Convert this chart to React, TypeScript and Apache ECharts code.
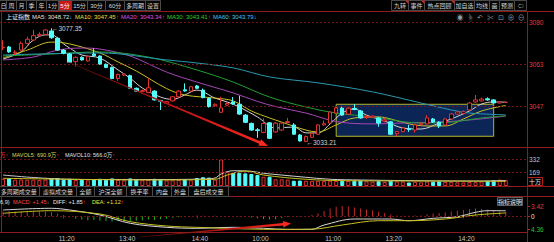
import React, { useEffect, useRef } from "react";
import * as echarts from "echarts";

// ---------------- data ----------------
const categories = [
  "10:30","10:35","10:40","10:45","10:50","10:55","11:00","11:05","11:10","11:15","11:20","11:25","11:30",
  "13:05","13:10","13:15","13:20","13:25","13:30","13:35","13:40","13:45","13:50","13:55","14:00","14:05","14:10","14:15","14:20","14:25","14:30","14:35","14:40","14:45","14:50","14:55","15:00",
  "09:35","09:40","09:45","09:50","09:55","10:00","10:05","10:10","10:15","10:20","10:25","10:30","10:35","10:40","10:45","10:50","10:55","11:00","11:05","11:10","11:15","11:20","11:25","11:30",
  "13:05","13:10","13:15","13:20","13:25","13:30","13:35","13:40","13:45","13:50","13:55","14:00","14:05","14:10","14:15","14:20","14:25","14:30","14:35","14:40","14:45","14:50","14:55","15:00",
  "", ""
];
const timeLabelIndex = [10, 20, 32, 42, 54, 64, 76];

const opens = [
  3069.8,3070.1,3067.8,3068.9,3071.5,3072.8,3074.5,3075.0,3076.3,3073.5,
  3068.9,3067.4,3064.4,3066.1,3064.7,3067.4,3066.6,3063.4,3062.2,3057.9,
  3059.2,3059.0,3054.1,3052.9,3052.5,3053.0,3049.4,3048.3,3049.2,3050.8,
  3053.5,3053.0,3055.0,3053.4,3050.2,3047.3,3044.8,3047.6,3048.8,3047.9,
  3043.7,3040.5,3038.0,3037.0,3040.7,3037.2,3037.9,3040.8,3039.9,3036.0,
  3033.5,3035.1,3036.3,3039.9,3040.6,3044.5,3046.4,3044.1,3046.3,3045.3,
  3042.8,3042.9,3042.6,3041.4,3041.1,3036.5,3037.3,3038.5,3037.9,3040.0,
  3040.3,3042.2,3041.0,3039.9,3042.2,3044.1,3044.3,3045.7,3048.8,3049.2,
  3050.0,3049.6,3048.4,3048.6
];
const closes = [
  3070.0,3068.2,3068.1,3071.5,3073.1,3074.5,3075.0,3076.7,3073.7,3068.9,
  3067.7,3064.2,3066.1,3065.1,3066.4,3066.7,3063.5,3062.2,3057.9,3059.5,
  3059.6,3054.1,3053.0,3053.2,3054.3,3049.6,3049.1,3048.9,3050.8,3053.0,
  3053.1,3054.7,3054.1,3050.5,3047.0,3047.9,3046.5,3048.2,3048.0,3044.1,
  3040.9,3037.9,3037.7,3040.5,3034.7,3040.6,3040.6,3041.2,3036.3,3033.7,
  3035.4,3036.6,3039.9,3040.4,3044.9,3046.5,3043.7,3046.4,3045.9,3042.6,
  3043.2,3043.3,3040.6,3041.8,3036.3,3037.3,3038.7,3038.1,3039.9,3040.4,
  3042.6,3041.0,3039.5,3042.2,3044.1,3044.9,3045.0,3048.4,3049.6,3049.9,
  3049.6,3048.4,3048.8,3048.7
];
const lows = [
  3068.9,3067.8,3067.0,3068.5,3071.1,3072.4,3074.1,3074.8,3073.3,3068.6,
  3067.3,3063.9,3062.5,3064.8,3064.4,3066.4,3063.2,3061.9,3057.6,3057.0,
  3058.8,3053.8,3052.7,3052.6,3052.2,3049.3,3045.7,3048.0,3048.9,3050.5,
  3052.8,3052.7,3053.8,3050.2,3046.6,3047.0,3044.5,3047.2,3047.7,3043.8,
  3040.6,3037.6,3034.9,3036.7,3034.4,3036.9,3037.6,3040.5,3036.0,3033.4,
  3033.21,3034.8,3036.0,3039.6,3040.3,3044.2,3043.4,3043.8,3045.6,3042.3,
  3042.2,3042.6,3039.2,3040.9,3036.0,3035.5,3037.0,3037.2,3036.9,3039.7,
  3040.0,3040.7,3038.7,3039.6,3041.9,3043.8,3044.0,3045.4,3048.5,3048.9,
  3049.3,3048.1,3048.1,3048.4
];
const highs = [
  3072.8,3070.5,3068.9,3072.2,3074.1,3076.7,3075.8,3077.0,3077.35,3074.0,
  3069.3,3067.8,3066.5,3066.5,3066.8,3069.6,3066.9,3063.7,3062.5,3059.8,
  3060.0,3059.4,3054.4,3053.6,3057.9,3053.4,3049.6,3049.2,3051.1,3053.4,
  3056.0,3055.0,3055.4,3054.0,3050.5,3048.2,3050.8,3048.6,3050.7,3051.2,
  3044.1,3040.8,3038.7,3042.5,3041.0,3041.0,3041.0,3042.6,3040.6,3036.4,
  3035.8,3036.9,3040.2,3041.6,3045.3,3047.0,3047.0,3046.8,3048.0,3045.7,
  3043.8,3043.6,3043.0,3042.6,3041.4,3037.6,3039.0,3039.9,3040.2,3040.9,
  3043.7,3042.6,3041.3,3042.5,3044.5,3045.3,3045.5,3048.8,3051.5,3050.5,
  3050.6,3049.9,3049.1,3048.9
];
// volume in units of 十万
const volumes = [
  90,95,80,82,78,80,75,80,95,100,
  80,90,75,80,72,85,90,78,95,75,
  70,95,80,72,75,90,85,70,72,75,
  85,72,100,110,105,80,332,178,166,166,
  158,150,137,116,116,84,84,80,66,68,
  66,64,66,62,66,64,66,64,66,68,
  58,54,60,50,66,56,54,44,52,46,
  56,54,58,50,52,46,44,50,48,56,
  64,70,80,74
];
const macdHist = [
  1.6,1.7,1.6,1.5,1.7,1.8,1.7,1.6,1.4,0.9,
  0.4,-0.3,-0.8,-1.1,-1.3,-1.2,-1.5,-1.6,-1.7,-1.5,
  -1.6,-1.7,-1.5,-1.3,-1.1,-1.2,-1.0,-0.8,-0.5,-0.3,
  -0.1,0.1,0.3,0.2,0.1,0.2,0.1,0.05,0.1,-0.1,
  -0.2,-0.4,-0.6,-0.9,-1.1,-1.0,-0.6,-0.3,-0.1,-0.15,
  0.1,0.4,1.05,1.75,2.6,3.2,3.42,3.3,2.9,2.6,
  2.3,2.0,1.5,1.1,0.6,0.3,0.15,0.2,0.25,0.3,
  0.7,0.9,1.1,1.3,1.6,1.9,2.1,2.4,2.6,2.5,
  2.3,1.9,1.6,1.45
];
// moving averages: [bar index, value]
const ma5Points = [[0,3065.45],[3,3068.2],[5,3072.8],[7,3074.8],[8,3074.8],[10,3071.3],[11,3069.7],[13,3067.0],[16,3065.8],[19,3061.2],[21,3058.0],[23,3054.2],[26,3050.7],[28,3049.8],[30,3051.5],[32,3053.4],[35,3050.3],[37,3048.8],[39,3046.85],[42,3043.0],[45,3038.7],[48,3039.1],[50,3036.8],[52,3036.8],[54,3040.3],[56,3044.5],[58,3046.1],[60,3043.7],[63,3041.4],[66,3038.7],[69,3038.3],[72,3040.6],[74,3042.2],[77,3045.3],[79,3048.0],[81,3048.8],[83,3048.72]];
const ma10Points = [[0,3065.8],[4,3068.9],[8,3072.0],[11,3071.3],[16,3067.8],[19,3064.3],[22,3060.8],[27,3054.0],[30,3051.5],[35,3050.3],[38,3049.2],[41,3045.3],[44,3042.6],[46,3041.0],[50,3037.9],[52,3037.2],[55,3039.9],[58,3042.6],[62,3043.0],[64,3042.2],[67,3040.3],[70,3039.5],[73,3039.5],[76,3042.2],[79,3045.3],[83,3047.45]];
const ma20Points = [[0,3065.1],[5,3066.2],[9,3068.9],[13,3069.7],[16,3069.3],[21,3066.6],[27,3060.4],[32,3056.5],[38,3052.3],[42,3049.0],[45,3047.0],[50,3044.5],[55,3041.2],[61,3040.3],[66,3040.65],[72,3041.0],[77,3041.8],[83,3043.34]];
const ma30Points = [[0,3066.6],[8,3067.4],[16,3068.2],[24,3066.2],[32,3061.2],[38,3056.5],[44,3050.7],[50,3046.85],[55,3044.5],[61,3043.0],[69,3040.65],[74,3041.0],[79,3042.6],[83,3043.41]];
const ma60Points = [[0,3067.0],[16,3067.8],[27,3065.1],[32,3063.9],[38,3062.0],[44,3058.5],[52,3056.2],[61,3052.7],[69,3048.4],[74,3045.7],[77,3044.5],[83,3043.79]];
const mavol5Points = [[0,137],[5,106],[11,84],[16,81],[25,81],[33,87],[35,100],[36,150],[38,191],[41,184],[43,159],[46,137],[50,109],[54,84],[59,75],[69,66],[79,62],[83,69.1]];
const mavol10Points = [[0,96],[11,84],[24,75],[35,84],[37,137],[40,187],[43,137],[50,84],[57,66],[70,62],[80,60],[83,56.6]];
const diffPoints = [[0,2.1],[8,2.67],[11,2.1],[16,0.43],[21,-2.33],[27,-3.67],[32,-4.0],[38,-3.67],[43,-4.0],[47,-4.36],[51,-4.33],[53,-2.9],[58,-0.9],[64,-0.9],[67,-1.47],[71,-0.67],[75,-0.13],[78,1.33],[80,1.87],[83,1.85]];
const deaPoints = [[0,1.0],[8,1.87],[16,0.77],[21,-1.8],[27,-3.23],[32,-3.67],[43,-4.33],[47,-4.36],[51,-4.3],[56,-2.9],[62,-1.47],[67,-1.47],[73,-0.9],[78,0.43],[83,1.12]];

const priceLevels = [3079.6, 3063.3, 3047.0];
const volumeLevels = [332, 169];
const macdLevels = [3.42, 0, -4.36];
const highMark: [number, number] = [8, 3077.35];
const lowMark: [number, number] = [50, 3033.21];
const boxStart = 55, boxEnd = 81, boxTop = 3047.9, boxBottom = 3035.5;

// ---------------- styles ----------------
const UP = "#e23232";
const DOWN = "#54fcfc";
const FRAME = "#8e1b1b";
const DASH = "#701414";
const FONT = "'Liberation Sans','Noto Sans CJK SC',sans-serif";
const RED_ARROW = "#ff3030";
const BLUE_ARROW = "#2ec8e8";

function txt(x: number, y: number, text: string, fill: string, extra: any = {}) {
  const align = extra.align || "left";
  return {
    type: "text", x, y, silent: true, z: 100,
    style: {
      text, fill, fontSize: extra.fontSize || 6, fontFamily: FONT,
      align, textAlign: align, verticalAlign: "middle", textVerticalAlign: "middle",
    },
  };
}
// one text element made of coloured runs
function rtxt(x: number, y: number, parts: [string, string][], fontSize = 6) {
  const rich: any = {};
  parts.forEach(([, c], i) => {
    rich["s" + i] = { fill: c, color: c, fontSize, fontFamily: FONT };
  });
  return {
    type: "text", x, y, silent: true, z: 100,
    style: {
      text: parts.map(([t], i) => "{s" + i + "|" + t + "}").join(""),
      rich, fill: parts[0][1], fontSize, fontFamily: FONT,
      align: "left", textAlign: "left", verticalAlign: "middle", textVerticalAlign: "middle",
    },
  };
}
function hline(y: number, x1: number, x2: number, color = FRAME) {
  return { type: "line", silent: true, z: 90, shape: { x1, y1: y, x2, y2: y }, style: { stroke: color, lineWidth: 1 } };
}
function vline(x: number, y1: number, y2: number, color = FRAME) {
  return { type: "line", silent: true, z: 90, shape: { x1: x, y1, x2: x, y2 }, style: { stroke: color, lineWidth: 1 } };
}
function box(x0: number, x1: number, y0: number, y1: number, label: string, fill = "#050505", color = "#d6d6d6", stroke = "#4a4a4a", textX?: number) {
  return [
    { type: "rect", silent: true, z: 95, shape: { x: x0, y: y0, width: x1 - x0, height: y1 - y0 }, style: { fill, stroke, lineWidth: 1 } },
    txt(textX !== undefined ? textX : (x0 + x1) / 2, (y0 + y1) / 2 + 0.3, label, color, { align: "center" }),
  ];
}

function buildOption() {
  const candleData = opens.map((o, i) => [o, closes[i], lows[i], highs[i]]);
  const volData = volumes.map((v, i) => ({
    value: v,
    itemStyle: closes[i] >= opens[i]
      ? { color: "#000", borderColor: UP, borderWidth: 1 }
      : { color: DOWN, borderColor: DOWN, borderWidth: 1 },
  }));
  const macdData = macdHist.map((v) => ({ value: v, itemStyle: { color: v >= 0 ? "#c22a2a" : "#22b022" } }));

  const xBase = {
    type: "category", data: categories, boundaryGap: true,
    axisLine: { show: false }, axisTick: { show: false }, axisLabel: { show: false }, splitLine: { show: false },
  };
  const showIdx = (i: number) => timeLabelIndex.indexOf(i) >= 0;

  const maLine = (name: string, data: number[][], color: string) => ({
    name, type: "line", xAxisIndex: 0, yAxisIndex: 0, data, smooth: 0.35, showSymbol: false, symbol: "none",
    lineStyle: { color, width: 1 }, z: 4, silent: true,
  });

  const graphics: any[] = [];
  // toolbar
  const leftTabs: [string, number, number][] = [["日",-4,6.5],["周",6.5,16.5],["月",16.5,26.5],["季",26.5,36.5],["年",36.5,46.5],["1分",46.5,58.5],["5分",58.5,71.5],["15分",71.5,87.5],["30分",87.5,105.5],["60分",105.5,124.5],["多周期",124.5,145.5],["设置",145.5,160.5]];
  leftTabs.forEach(([t, a, b]) => graphics.push(...box(a, b, 0.5, 10.5, t, t === "5分" ? "#c41a1a" : "#050505", t === "5分" ? "#ffffff" : "#d6d6d6", "#4a4a4a", t === "日" ? 3.4 : undefined)));
  const rightTabs: [string, number, number, boolean][] = [["九转",391.5,408.5,true],["事件",408.5,424.5,true],["热点回顾",424.5,454.5,true],["加自选",454.5,474.5,false],["均线",474.5,489.5,false],["画",489.5,499.5,false],["预测",499.5,514.5,false],["⇦",514.5,526.5,false]];
  rightTabs.forEach(([t, a, b, flag]) => {
    graphics.push(...box(a, b, 0.5, 10.5, t));
    if (flag) graphics.push({ type: "polygon", silent: true, z: 96, shape: { points: [[b - 3.5, 0.5], [b, 0.5], [b, 4]] }, style: { fill: "#e02020" } });
  });
  graphics.push(hline(11.5, 0, 554));
  // icons
  ["◉", "☝", "↶", "✂", "⊡", "⊕", "⊖"].forEach((g, i) => graphics.push(txt(460 + i * 10.2, 17, g, "#9a9a9a", { align: "center", fontSize: 7 })));
  // MA legend
  graphics.push(txt(6, 16.5, "上证指数", "#f0f0f0"));
  graphics.push(rtxt(32, 16.5, [["MA5: 3048.72", "#e0e0e0"], ["↓", BLUE_ARROW]]));
  graphics.push(rtxt(75, 16.5, [["MA10: 3047.45", "#e6e040"], ["↑", RED_ARROW]]));
  graphics.push(rtxt(121, 16.5, [["MA20: 3043.34", "#e050e0"], ["↑", RED_ARROW]]));
  graphics.push(rtxt(167, 16.5, [["MA30: 3043.41", "#30d030"], ["↑", RED_ARROW]]));
  graphics.push(rtxt(213, 16.5, [["MA60: 3043.79", "#40c8f0"], ["↓", BLUE_ARROW]]));
  // frame
  graphics.push(vline(1.5, 11.5, 232.5), vline(527.5, 11.5, 242));
  graphics.push(hline(147.5, 0, 554), hline(186.5, 0, 554), hline(196.5, 0, 554), hline(232.5, 0, 528));
  // volume legend
  graphics.push(rtxt(0, 154.5, [["万↑", "#e83030"]], 5.5));
  graphics.push(rtxt(12, 154.5, [["MAVOL5: 690.9万", "#d8d860"], ["↑", RED_ARROW]], 5.5));
  graphics.push(rtxt(65, 154.5, [["MAVOL10: 566.0万", "#e0e0e0"], ["↑", RED_ARROW]], 5.5));
  // unit box
  graphics.push(...box(527.5, 542.5, 177.5, 185.5, "十万", "#000", "#e8e8e8", "#b02020"));
  // tabs
  const tabs: [string, number, number][] = [["多周期成交量",-2,39.5],["虚拟成交量",39.5,76.5],["全额",76.5,94.5],["沪深全额",94.5,126.5],["换手率",126.5,152.5],["内盘",152.5,171.5],["外盘",171.5,188.5],["盘后成交量",188.5,228.5]];
  tabs.forEach(([t, a, b]) => graphics.push(...box(a, b, 186.5, 196.5, t)));
  // MACD legend
  graphics.push(rtxt(0, 201.5, [["6,9)", "#e0e0e0"]], 5.6));
  graphics.push(rtxt(13, 201.5, [["MACD: +1.45", "#ff4a4a"], ["↓", BLUE_ARROW]], 5.6));
  graphics.push(rtxt(53, 201.5, [["DIFF: +1.85", "#e8e8e8"], ["↑", RED_ARROW]], 5.6));
  graphics.push(rtxt(92, 201.5, [["DEA: +1.12", "#e6e040"], ["↑", RED_ARROW]], 5.6));
  graphics.push(...box(497.5, 522.5, 197.5, 205.5, "指标说明", "#101010", "#e8e8e8", "#606060"));
  // hand-drawn red arrows
  const grad = () => new echarts.graphic.LinearGradient(0, 0, 1, 0, [
    { offset: 0, color: "#5a0a0a" }, { offset: 0.6, color: "#c01818" }, { offset: 1, color: "#ff2a1e" },
  ]);
  graphics.push({ type: "polygon", silent: true, z: 80, shape: { points: [[68.16,61.63],[260.2,141.35],[261.07,139.28],[268,146],[258.33,145.72],[259.2,143.65],[67.84,62.37]] }, style: { fill: grad() } });
  graphics.push({ type: "polygon", silent: true, z: 80, shape: { points: [[139.97,236.7],[282.92,222.97],[282.75,221.02],[291,223.5],[283.31,227.4],[283.14,225.46],[140.03,237.3]] }, style: { fill: grad() } });

  return {
    animation: false,
    backgroundColor: "#000",
    graphic: { elements: graphics },
    grid: [
      { left: 0, width: 527, top: 12, height: 135 },
      { left: 0, width: 527, top: 150, height: 36 },
      { left: 0, width: 527, top: 200, height: 32 },
    ],
    xAxis: [
      { ...xBase, gridIndex: 0 },
      { ...xBase, gridIndex: 1 },
      {
        ...xBase, gridIndex: 2,
        axisTick: { show: true, interval: (i: number) => showIdx(i), alignWithLabel: true, length: 2, lineStyle: { color: "#c02020" } },
        axisLabel: {
          show: true, interval: (i: number) => showIdx(i), color: "#c8c8c8", fontSize: 6.5, fontFamily: FONT,
          margin: 3, padding: [0, 0, 0, 6],
        },
      },
    ],
    yAxis: [
      {
        type: "value", gridIndex: 0, position: "right", min: 3031.34, max: 3083.67, scale: true,
        axisLine: { show: false }, axisTick: { show: false }, splitLine: { show: false },
        axisLabel: { customValues: priceLevels, formatter: (v: number) => String(Math.round(v)), color: "#e03a3a", fontSize: 6.5, fontFamily: FONT, margin: 2 },
      },
      {
        type: "value", gridIndex: 1, position: "right", min: 0, max: 450,
        axisLine: { show: false }, axisTick: { show: false }, splitLine: { show: false },
        axisLabel: { customValues: volumeLevels, color: "#c0c0c0", fontSize: 6.5, fontFamily: FONT, margin: 2 },
      },
      {
        type: "value", gridIndex: 2, position: "right", min: -5.23, max: 5.43,
        axisLine: { show: false }, splitLine: { show: false },
        axisTick: { show: true, customValues: macdLevels, length: 3, inside: false, lineStyle: { color: "#c02020" } },
        axisLabel: {
          customValues: macdLevels, fontSize: 6.5, fontFamily: FONT, margin: 4,
          formatter: (v: number) => (v === 0 ? "0" : Math.abs(v).toFixed(2)),
          color: (v: any) => (Number(v) > 0 ? "#e03a3a" : Number(v) < 0 ? "#2ec02e" : "#e0e0e0"),
        },
      },
    ],
    series: [
      {
        type: "line", xAxisIndex: 0, yAxisIndex: 0, data: [], z: 1, silent: true,
        markArea: {
          silent: true,
          itemStyle: { color: "#0b2556", borderColor: "#b5b52e", borderWidth: 1 },
          data: [[{ coord: [boxStart, boxTop] }, { coord: [boxEnd, boxBottom] }]],
        },
        markLine: {
          silent: true, symbol: ["none", "none"], label: { show: false },
          lineStyle: { color: DASH, type: [2, 2], width: 1 },
          data: priceLevels.map((v) => ({ yAxis: v })),
        },
      },
      {
        name: "K", type: "candlestick", xAxisIndex: 0, yAxisIndex: 0, data: candleData, barWidth: 4, z: 5,
        itemStyle: { color: "#000", color0: DOWN, borderColor: UP, borderColor0: DOWN, borderWidth: 1 },
        markPoint: {
          symbol: "circle", symbolSize: 1, silent: true,
          itemStyle: { color: "rgba(0,0,0,0)" },
          label: { show: true, position: "right", distance: 0, color: "#d0d0d0", fontSize: 6.5, fontFamily: FONT, formatter: (p: any) => "←" + p.value },
          data: [
            { coord: highMark, value: highMark[1].toFixed(2) },
            { coord: lowMark, value: lowMark[1].toFixed(2) },
          ],
        },
      },
      maLine("MA5", ma5Points, "#d4d4d4"),
      maLine("MA10", ma10Points, "#c8c022"),
      maLine("MA20", ma20Points, "#a844b8"),
      maLine("MA30", ma30Points, "#22a032"),
      maLine("MA60", ma60Points, "#2a98b0"),
      {
        type: "line", xAxisIndex: 1, yAxisIndex: 1, data: [], z: 1, silent: true,
        markLine: {
          silent: true, symbol: ["none", "none"], label: { show: false },
          lineStyle: { color: DASH, type: [2, 2], width: 1 },
          data: volumeLevels.map((v) => ({ yAxis: v })),
        },
      },
      { name: "VOL", type: "bar", xAxisIndex: 1, yAxisIndex: 1, data: volData, barWidth: 4, z: 3, silent: true },
      { name: "MAVOL5", type: "line", xAxisIndex: 1, yAxisIndex: 1, data: mavol5Points, smooth: 0.35, showSymbol: false, symbol: "none", lineStyle: { color: "#cfcfcf", width: 1 }, z: 4, silent: true },
      { name: "MAVOL10", type: "line", xAxisIndex: 1, yAxisIndex: 1, data: mavol10Points, smooth: 0.35, showSymbol: false, symbol: "none", lineStyle: { color: "#c8c022", width: 1 }, z: 4, silent: true },
      {
        type: "line", xAxisIndex: 2, yAxisIndex: 2, data: [], z: 1, silent: true,
        markLine: {
          silent: true, symbol: ["none", "none"], label: { show: false },
          lineStyle: { color: DASH, type: [2, 2], width: 1 },
          data: [{ yAxis: 0 }],
        },
      },
      { name: "MACD", type: "bar", xAxisIndex: 2, yAxisIndex: 2, data: macdData, barWidth: 1, z: 3, silent: true },
      { name: "DIFF", type: "line", xAxisIndex: 2, yAxisIndex: 2, data: diffPoints, smooth: 0.35, showSymbol: false, symbol: "none", lineStyle: { color: "#d8d8d8", width: 1 }, z: 4, silent: true },
      { name: "DEA", type: "line", xAxisIndex: 2, yAxisIndex: 2, data: deaPoints, smooth: 0.35, showSymbol: false, symbol: "none", lineStyle: { color: "#c8c022", width: 1 }, z: 4, silent: true },
    ],
  };
}

export default function App() {
  const ref = useRef<HTMLDivElement>(null);
  useEffect(() => {
    if (!ref.current) return;
    const chart = echarts.init(ref.current, null, { renderer: "svg" });
    chart.setOption(buildOption() as any);
    return () => chart.dispose();
  }, []);
  return (
    <div
      ref={ref}
      style={{ position: "absolute", left: 0, top: 0, width: 554, height: 242, background: "#000" }}
    />
  );
}
